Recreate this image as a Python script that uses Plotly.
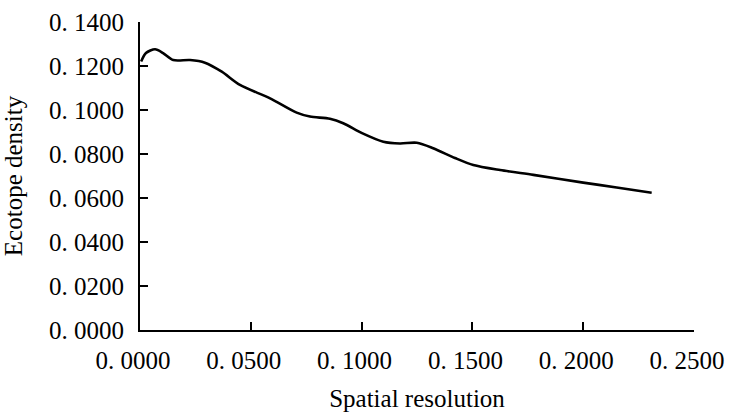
import plotly.graph_objects as go

resolution = [0.0005, 0.0027, 0.0068, 0.0104, 0.0150, 0.0226, 0.0293, 0.0369, 0.0451,
              0.0587, 0.0707, 0.0767, 0.0857, 0.0917, 0.1002, 0.1098, 0.1173, 0.1249,
              0.1323, 0.1421, 0.1504, 0.1625, 0.1775, 0.2000, 0.2151, 0.2309]
density = [0.1220, 0.1259, 0.1276, 0.1259, 0.1227, 0.1227, 0.1215, 0.1174, 0.1114,
           0.1053, 0.0988, 0.0970, 0.0960, 0.0940, 0.0895, 0.0856, 0.0848, 0.0851,
           0.0826, 0.0782, 0.0750, 0.0727, 0.0705, 0.0670, 0.0648, 0.0624]

x_ticks = [0.0, 0.05, 0.10, 0.15, 0.20, 0.25]
x_labels = ["0. 0000", "0. 0500", "0. 1000", "0. 1500", "0. 2000", "0. 2500"]
y_ticks = [0.0, 0.02, 0.04, 0.06, 0.08, 0.10, 0.12, 0.14]
y_labels = ["0. 0000", "0. 0200", "0. 0400", "0. 0600", "0. 0800", "0. 1000", "0. 1200", "0. 1400"]

serif = "Liberation Serif, Times New Roman, serif"

fig = go.Figure()
fig.add_trace(go.Scatter(
    x=resolution, y=density, mode="lines",
    line=dict(color="black", width=2.6, shape="spline", smoothing=0.8),
    showlegend=False, hoverinfo="x+y",
))

fig.update_layout(
    width=729, height=416,
    margin=dict(l=140, r=35, t=22, b=86, autoexpand=False),
    paper_bgcolor="white", plot_bgcolor="white",
    font=dict(family=serif, color="black"),
)
fig.update_xaxes(
    range=[0, 0.25], tickmode="array", tickvals=x_ticks, ticktext=x_labels,
    tickfont=dict(family=serif, size=25, color="black"), ticklabeloverflow="allow",
    showgrid=False, zeroline=False, showline=True, linecolor="black", linewidth=2,
    ticks="inside", ticklen=8, tickwidth=2, tickcolor="black",
    ticklabelstandoff=7, ticklabelshift=-7,
    title=dict(text="Spatial resolution", font=dict(family=serif, size=25, color="black"), standoff=16),
)
fig.update_yaxes(
    range=[0, 0.14], tickmode="array", tickvals=y_ticks, ticktext=y_labels,
    tickfont=dict(family=serif, size=25, color="black"), ticklabeloverflow="allow",
    showgrid=False, zeroline=False, showline=True, linecolor="black", linewidth=2,
    ticks="inside", ticklen=8, tickwidth=2, tickcolor="black", ticklabelstandoff=9,
    title=dict(text="Ecotope density", font=dict(family=serif, size=25, color="black"), standoff=22),
)

fig.write_html("out.html", config={"displayModeBar": False},
               post_script="document.body.style.margin='0';document.body.style.overflow='hidden';")
